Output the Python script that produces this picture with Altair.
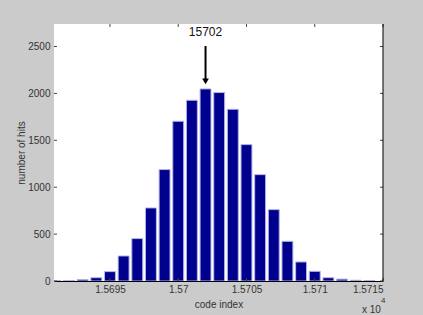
import altair as alt
import pandas as pd

# ---- data ----
codes = list(range(15691, 15715))
hits = [5, 5, 15, 35, 100, 267, 452, 779, 1188, 1703, 1927, 2048, 2009,
        1831, 1454, 1134, 761, 423, 203, 103, 35, 20, 8, 4]

x_ticks = [15695, 15700, 15705, 15710, 15715]
x_tick_labels = ["1.5695", "1.57", "1.5705", "1.571", "1.5715"]
y_ticks = [0, 500, 1000, 1500, 2000, 2500]

peak_code = 15702
peak_label = "15702"
arrow_top = 2505
arrow_tip = 2150
arrow_head = 2128
label_y = 2655

x_domain = [15690.9, 15715]
y_domain = [0, 2740]

W, H = 329, 257
FONT = "Liberation Sans"
GRAY_TXT = "#333333"

bars_df = pd.DataFrame({"code": codes, "hits": hits})
xt_df = pd.DataFrame({"t": x_ticks})
yt_df = pd.DataFrame({"t": y_ticks})
ann_df = pd.DataFrame({"code": [peak_code], "top": [arrow_top], "tip": [arrow_tip],
                       "head": [arrow_head], "ly": [label_y], "label": [peak_label]})

xscale = alt.Scale(domain=x_domain, nice=False, zero=False)
yscale = alt.Scale(domain=y_domain, nice=False)

label_expr = "[" + ",".join("'%s'" % s for s in x_tick_labels) + "][indexof([" + \
    ",".join(str(v) for v in x_ticks) + "], datum.value)]"

xaxis = alt.Axis(values=x_ticks, labelExpr=label_expr, tickSize=0, grid=False,
                 domainColor="#000000", domainWidth=1, labelPadding=3,
                 labelFont=FONT, labelFontSize=10, labelColor=GRAY_TXT,
                 title="code index", titleFont=FONT, titleFontSize=10,
                 titleFontWeight="normal", titleColor=GRAY_TXT, titlePadding=5)
yaxis = alt.Axis(values=y_ticks, format="d", tickSize=0, grid=False, domain=False,
                 labelPadding=4,
                 labelFont=FONT, labelFontSize=10, labelColor=GRAY_TXT,
                 title="number of hits", titleFont=FONT, titleFontSize=10,
                 titleFontWeight="normal", titleColor=GRAY_TXT, titlePadding=1)

bars = alt.Chart(bars_df).transform_calculate(
    x0="datum.code - 0.4", x1="datum.code + 0.4", base="0"
).mark_bar(color="#00008f", stroke="#b4b4e6", strokeWidth=1, clip=True).encode(
    x=alt.X("x0:Q", scale=xscale, axis=xaxis),
    x2="x1:Q",
    y=alt.Y("hits:Q", scale=yscale, axis=yaxis),
    y2="base:Q",
)

tick_color = "#444444"
bot_ticks = alt.Chart(xt_df).mark_rule(color=tick_color).encode(
    x=alt.X("t:Q", scale=xscale), y=alt.value(H), y2=alt.value(H - 3))
top_ticks = alt.Chart(xt_df).mark_rule(color=tick_color).encode(
    x=alt.X("t:Q", scale=xscale), y=alt.value(0), y2=alt.value(3))
left_ticks = alt.Chart(yt_df).mark_rule(color=tick_color).encode(
    y=alt.Y("t:Q", scale=yscale), x=alt.value(0), x2=alt.value(3))
right_ticks = alt.Chart(yt_df).mark_rule(color=tick_color).encode(
    y=alt.Y("t:Q", scale=yscale), x=alt.value(W - 3), x2=alt.value(W))
right_line = alt.Chart(xt_df.head(1)).mark_rule(color="#000000").encode(
    x=alt.value(W), y=alt.value(0), y2=alt.value(H))

shaft = alt.Chart(ann_df).mark_rule(color="#000000", strokeWidth=2).encode(
    x=alt.X("code:Q", scale=xscale), y=alt.Y("top:Q", scale=yscale), y2="tip:Q")
head = alt.Chart(ann_df).mark_point(shape="triangle-down", filled=True, color="#000000",
                                    size=45, opacity=1).encode(
    x=alt.X("code:Q", scale=xscale), y=alt.Y("head:Q", scale=yscale))
ann_text = alt.Chart(ann_df).mark_text(font=FONT, fontSize=12, color="#111111",
                                       baseline="middle", align="center").encode(
    x=alt.X("code:Q", scale=xscale), y=alt.Y("ly:Q", scale=yscale), text="label:N")

exp_df = pd.DataFrame({"a": ["x 10"], "b": ["4"]})
exp_text = alt.Chart(exp_df).mark_text(font=FONT, fontSize=10, color=GRAY_TXT,
                                       align="left", baseline="middle").encode(
    x=alt.value(W - 21), y=alt.value(H + 29), text="a:N")
exp_sup = alt.Chart(exp_df).mark_text(font=FONT, fontSize=8, color=GRAY_TXT,
                                      align="left", baseline="middle").encode(
    x=alt.value(W - 2), y=alt.value(H + 20), text="b:N")

chart = alt.layer(bars, bot_ticks, top_ticks, left_ticks, right_ticks, right_line,
                  shaft, head, ann_text, exp_text, exp_sup).properties(
    width=W, height=H,
    autosize=alt.AutoSizeParams(type="none"),
    padding={"left": 54, "top": 24, "right": 40, "bottom": 34},
    background="#cbcbcb",
).configure_view(fill="white", stroke=None)

chart.save("out.html", embed_options={"renderer": "svg", "actions": False})
